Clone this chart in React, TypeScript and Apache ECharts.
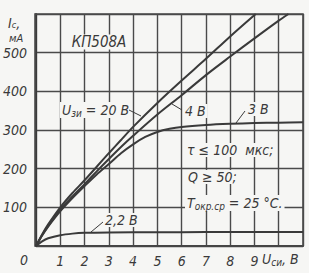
import React, { useEffect, useRef } from "react";
import * as echarts from "echarts";

// Drain voltage U_си (V) and drain current I_с (mA) for each gate voltage
const u20 = [0, 0.25, 0.5, 1, 1.5, 2, 2.5, 3, 3.5, 4, 5, 6, 7, 8, 9.05];
const i20 = [0, 30, 56, 100, 137, 170, 205, 240, 274, 308, 370, 428, 484, 542, 600];

const u4 = [0, 0.25, 0.5, 1, 1.5, 2, 2.5, 3, 3.5, 4, 5, 6, 7, 8, 9, 10, 10.4];
const i4 = [0, 28, 52, 95, 128, 160, 193, 225, 256, 285, 340, 390, 442, 490, 537, 583, 600];

const u3 = [0, 0.25, 0.5, 1, 1.5, 2, 2.5, 3, 3.5, 4, 4.5, 5, 5.5, 6, 7, 8, 9, 10, 11];
const i3 = [0, 27, 50, 90, 124, 155, 185, 212, 240, 263, 282, 295, 303, 308, 313, 316, 318, 319, 320];

const u22 = [0, 0.25, 0.5, 1, 1.5, 2, 3, 5, 7, 9, 11];
const i22 = [0, 12, 20, 28, 32, 34, 35, 35.5, 36, 36, 36];

const xTicks = ["1", "2", "3", "4", "5", "6", "7", "8", "9"];
const yTicks = ["100", "200", "300", "400", "500"];

const pairs = (u: number[], i: number[]) => u.map((v, k) => [v, i[k]]);

const FONT = '"Liberation Sans Narrow", "DejaVu Sans Condensed", "Liberation Sans", sans-serif';
const INK = "#3a3a3a";
const BG = "#f6f6f4";

export default function App() {
  const ref = useRef<HTMLDivElement>(null);
  useEffect(() => {
    if (!ref.current) return;
    const chart = echarts.init(ref.current, undefined, { renderer: "svg" });
    const lineSeries = (name: string, data: number[][]) => ({
      name,
      type: "line",
      data,
      smooth: 0.3,
      symbol: "none",
      lineStyle: { color: INK, width: 2 },
      z: 3,
    });
    const txt = (x: number, y: number, text: string, extra: any = {}) => ({
      type: "text",
      x,
      y,
      z: 1,
      style: {
        text,
        fill: INK,
        font: `italic 14px ${FONT}`,
        textVerticalAlign: "middle",
        textAlign: "left",
        ...extra,
      },
    });
    const bgTxt = (x: number, y: number, text: string, extra: any = {}) =>
      txt(x, y, text, { backgroundColor: BG, padding: [0, 2, 0, 2], ...extra });
    const rich = {
      m: { font: `italic 14px ${FONT}`, fill: INK, color: INK },
      s: { font: `italic 10px ${FONT}`, fill: INK, color: INK, padding: [6, 0, 0, 0] },
    };
    const leader = (x1: number, y1: number, x2: number, y2: number) => ({
      type: "line",
      z: 4,
      shape: { x1, y1, x2, y2 },
      style: { stroke: INK, lineWidth: 1 },
    });
    chart.setOption({
      animation: false,
      backgroundColor: BG,
      grid: { left: 35, top: 14, width: 268, height: 232, show: false },
      xAxis: {
        type: "value",
        min: 0,
        max: 11,
        interval: 1,
        axisLine: { show: true, lineStyle: { color: INK, width: 2 } },
        axisTick: { show: false },
        splitLine: { show: true, lineStyle: { color: "#4a4a4a", width: 1.4 } },
        axisLabel: {
          margin: 8,
          color: INK,
          fontFamily: FONT,
          fontStyle: "italic",
          fontSize: 14,
          formatter: (v: number) => (xTicks.includes(String(v)) ? String(v) : ""),
        },
      },
      yAxis: {
        type: "value",
        min: 0,
        max: 600,
        interval: 100,
        axisLine: { show: true, lineStyle: { color: INK, width: 2 } },
        axisTick: { show: false },
        splitLine: { show: true, lineStyle: { color: "#4a4a4a", width: 1.4 } },
        axisLabel: {
          margin: 9,
          color: INK,
          fontFamily: FONT,
          fontStyle: "italic",
          fontSize: 14,
          padding: [6, 0, 0, 0],
          formatter: (v: number) => (yTicks.includes(String(v)) ? String(v) : ""),
        },
      },
      series: [
        lineSeries("20 В", pairs(u20, i20)),
        lineSeries("4 В", pairs(u4, i4)),
        lineSeries("3 В", pairs(u3, i3)),
        lineSeries("2,2 В", pairs(u22, i22)),
      ],
      graphic: [
        {
          type: "rect",
          z: 1,
          shape: { x: 35, y: 14, width: 268, height: 232 },
          style: { fill: "none", stroke: "#4a4a4a", lineWidth: 1.6 },
        },
        txt(8, 23, "{m|I}{s|с}{m|,}", {
          rich: {
            m: { font: `italic 14px ${FONT}`, fill: INK, color: INK },
            s: { font: `italic 9px ${FONT}`, fill: INK, color: INK, padding: [3, 0, 0, 0] },
          },
        }),
        txt(9, 38, "мА", { font: `italic 11px ${FONT}` }),
        bgTxt(99, 42, "КП508А", { textAlign: "center", font: `italic 15px ${FONT}` }),
        bgTxt(60, 110, "{m|U}{s|зи}{m| = 20 В}", { rich }),
        leader(129, 110, 141, 116),
        leader(172, 104, 182, 110),
        bgTxt(183, 111, "4 В"),
        leader(236, 123, 245, 111),
        bgTxt(246, 109, "3 В"),
        leader(91, 232, 103, 222),
        bgTxt(103, 220, "2,2 В"),
        bgTxt(185, 150, "τ ≤ 100  мкс;"),
        bgTxt(186, 177, "Q ≥ 50;"),
        bgTxt(185, 203, "{m|T}{s|окр.ср}{m| = 25 °C.}", { rich }),
        txt(20, 260, "0"),
        txt(262, 259, "{m|U}{s|си}{m|, В}", { rich }),
      ],
    });
    return () => chart.dispose();
  }, []);
  return (
    <div
      ref={ref}
      style={{ position: "fixed", left: 0, top: 0, width: 309, height: 273 }}
    />
  );
}
